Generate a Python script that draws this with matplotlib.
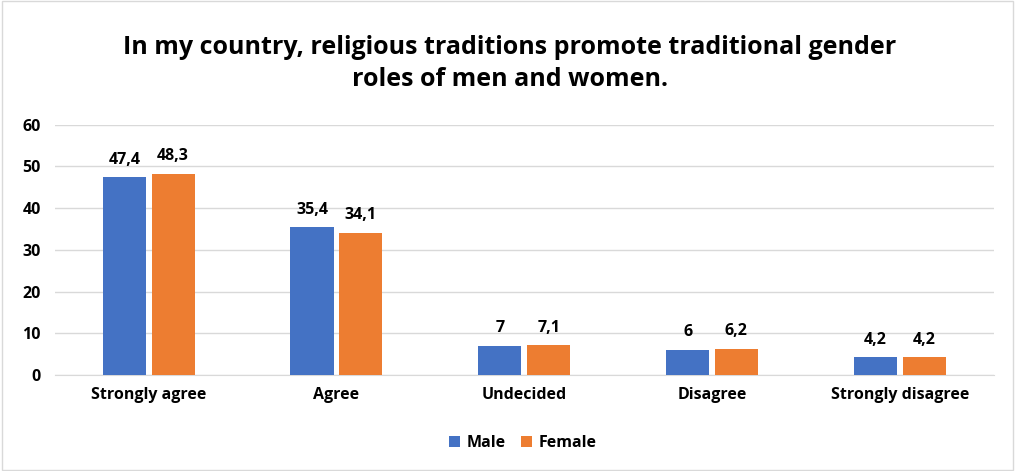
import matplotlib.pyplot as plt
import numpy as np

categories = ['Strongly agree', 'Agree', 'Undecided', 'Disagree', 'Strongly disagree']
male = [47.4, 35.4, 7, 6, 4.2]
female = [48.3, 34.1, 7.1, 6.2, 4.2]
male_labels = ['47,4', '35,4', '7', '6', '4,2']
female_labels = ['48,3', '34,1', '7,1', '6,2', '4,2']

plt.rcParams['font.family'] = ['Open Sans', 'DejaVu Sans']

fig = plt.figure(figsize=(10.15, 4.71), dpi=100)
ax = fig.add_axes([0.054, 0.204, 0.925, 0.531])

x = np.arange(len(categories))
w = 0.23
off = 0.13
b1 = ax.bar(x - off, male, w, color='#4472C4', label='Male', zorder=3)
b2 = ax.bar(x + off, female, w, color='#ED7D31', label='Female', zorder=3)

for bars, labs in [(b1, male_labels), (b2, female_labels)]:
    for b, t in zip(bars, labs):
        ax.text(b.get_x() + b.get_width() / 2, b.get_height() + 2.3, t,
                ha='center', va='bottom', fontsize=11.5, fontweight='bold', color='#000000')

ax.set_xlim(-0.5, len(categories) - 0.5)
ax.set_ylim(0, 60)
ax.set_yticks(range(0, 61, 10))
ax.yaxis.grid(True, color='#D9D9D9', linewidth=1, zorder=0)
ax.set_xticks(x)
ax.set_xticklabels(categories, fontsize=11.5, fontweight='bold')
for lab in ax.get_yticklabels():
    lab.set_fontweight('bold')
    lab.set_fontsize(11.5)
ax.tick_params(axis='both', length=0, pad=9)
ax.tick_params(axis='y', pad=10)
for s in ['top', 'right', 'left']:
    ax.spines[s].set_visible(False)
ax.spines['bottom'].set_color('#D9D9D9')

fig.text(0.502, 0.865, 'In my country, religious traditions promote traditional gender\nroles of men and women.',
         ha='center', va='center', fontsize=18, fontweight='bold', linespacing=1.35)

fig.legend(loc='center', bbox_to_anchor=(0.515, 0.06), ncol=2, frameon=False,
           prop={'weight': 'bold', 'size': 11.5}, handlelength=0.7, handleheight=0.7,
           columnspacing=1.0, handletextpad=0.4)

fig.patches.append(plt.Rectangle((0.002, 0.002), 0.996, 0.996, transform=fig.transFigure,
                                 fill=False, edgecolor='#D9D9D9', linewidth=1))

fig.savefig('out.png', dpi=100)
